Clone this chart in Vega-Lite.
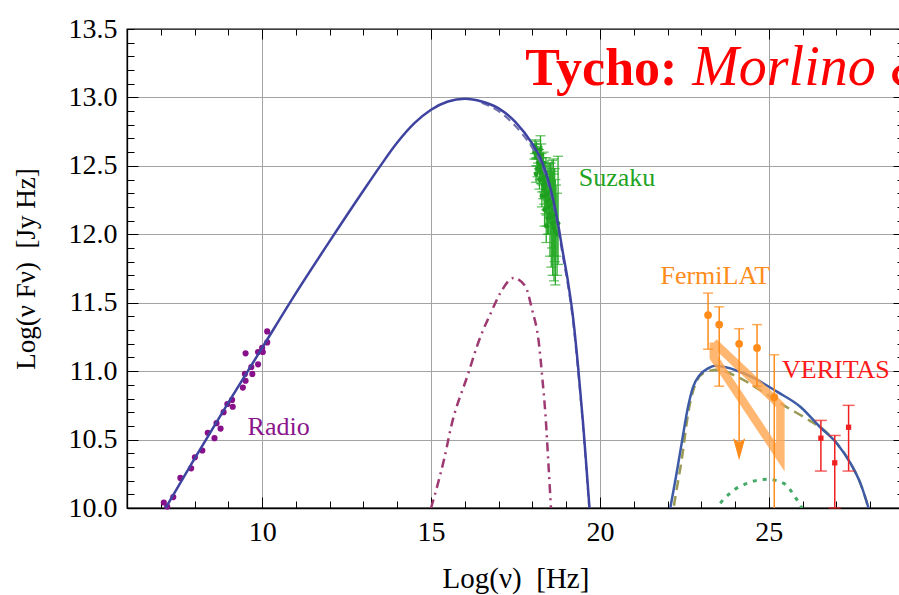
{
  "$schema": "https://vega.github.io/schema/vega-lite/v6.json",
  "width": 777,
  "height": 479,
  "autosize": {"type": "none"},
  "padding": {"left": 127, "top": 29, "right": -5, "bottom": 87},
  "background": "white",
  "config": {
    "view": {"stroke": "black", "strokeWidth": 1.3},
    "font": "Liberation Serif",
    "axis": {"labelFont": "Liberation Serif", "titleFont": "Liberation Serif", "labelColor": "black", "titleColor": "black", "tickColor": "black", "domainColor": "black", "titleFontWeight": "normal", "labelFlush": false, "labelOverlap": false}
  },
  "datasets": {
    "radio": [
      {"x": 10.15, "y": 11.29}, {"x": 10.15, "y": 11.21}, {"x": 10.0, "y": 11.17}, {"x": 9.88, "y": 11.14},
      {"x": 10.02, "y": 11.14}, {"x": 9.51, "y": 11.13}, {"x": 9.88, "y": 11.05}, {"x": 9.68, "y": 11.03},
      {"x": 9.71, "y": 10.98}, {"x": 9.49, "y": 10.98}, {"x": 9.51, "y": 10.93}, {"x": 9.43, "y": 10.88},
      {"x": 9.11, "y": 10.79}, {"x": 8.97, "y": 10.76}, {"x": 9.13, "y": 10.74}, {"x": 8.86, "y": 10.7},
      {"x": 8.65, "y": 10.62}, {"x": 8.77, "y": 10.58}, {"x": 8.39, "y": 10.55}, {"x": 8.59, "y": 10.51},
      {"x": 8.23, "y": 10.42}, {"x": 8.01, "y": 10.37}, {"x": 7.9, "y": 10.29}, {"x": 7.58, "y": 10.22},
      {"x": 7.37, "y": 10.08}, {"x": 7.09, "y": 10.04}, {"x": 7.19, "y": 10.01}
    ],
    "suzaku": [
      {"x": 18.06, "y": 12.6, "lo": 12.55, "hi": 12.66}, {"x": 18.08, "y": 12.64, "lo": 12.59, "hi": 12.69},
      {"x": 18.1, "y": 12.6, "lo": 12.55, "hi": 12.66}, {"x": 18.12, "y": 12.62, "lo": 12.56, "hi": 12.68},
      {"x": 18.14, "y": 12.56, "lo": 12.5, "hi": 12.62}, {"x": 18.16, "y": 12.58, "lo": 12.52, "hi": 12.64},
      {"x": 18.18, "y": 12.52, "lo": 12.45, "hi": 12.59}, {"x": 18.2, "y": 12.55, "lo": 12.48, "hi": 12.62},
      {"x": 18.22, "y": 12.48, "lo": 12.4, "hi": 12.56}, {"x": 18.24, "y": 12.62, "lo": 12.52, "hi": 12.72},
      {"x": 18.25, "y": 12.45, "lo": 12.37, "hi": 12.53}, {"x": 18.27, "y": 12.5, "lo": 12.41, "hi": 12.59},
      {"x": 18.29, "y": 12.4, "lo": 12.31, "hi": 12.49}, {"x": 18.3, "y": 12.46, "lo": 12.36, "hi": 12.56},
      {"x": 18.32, "y": 12.36, "lo": 12.26, "hi": 12.46}, {"x": 18.34, "y": 12.42, "lo": 12.31, "hi": 12.53},
      {"x": 18.35, "y": 12.33, "lo": 12.22, "hi": 12.44}, {"x": 18.37, "y": 12.38, "lo": 12.26, "hi": 12.5},
      {"x": 18.39, "y": 12.28, "lo": 12.15, "hi": 12.41}, {"x": 18.4, "y": 12.44, "lo": 12.32, "hi": 12.56},
      {"x": 18.42, "y": 12.3, "lo": 12.14, "hi": 12.46}, {"x": 18.44, "y": 12.24, "lo": 12.06, "hi": 12.42},
      {"x": 18.46, "y": 12.36, "lo": 12.2, "hi": 12.52}, {"x": 18.48, "y": 12.2, "lo": 12.0, "hi": 12.4},
      {"x": 18.5, "y": 12.3, "lo": 12.08, "hi": 12.52}, {"x": 18.52, "y": 12.15, "lo": 11.84, "hi": 12.46},
      {"x": 18.54, "y": 12.26, "lo": 12.0, "hi": 12.52}, {"x": 18.56, "y": 12.12, "lo": 11.76, "hi": 12.48},
      {"x": 18.58, "y": 12.22, "lo": 11.9, "hi": 12.54}, {"x": 18.6, "y": 12.08, "lo": 11.7, "hi": 12.46},
      {"x": 18.62, "y": 12.18, "lo": 11.84, "hi": 12.55}, {"x": 18.64, "y": 12.05, "lo": 11.66, "hi": 12.44},
      {"x": 18.66, "y": 12.14, "lo": 11.8, "hi": 12.48}, {"x": 18.68, "y": 12.02, "lo": 11.63, "hi": 12.4},
      {"x": 18.7, "y": 12.1, "lo": 11.84, "hi": 12.36}, {"x": 18.73, "y": 12.0, "lo": 11.7, "hi": 12.3},
      {"x": 18.76, "y": 12.08, "lo": 11.78, "hi": 12.57}, {"x": 18.26, "y": 12.58, "lo": 12.5, "hi": 12.66},
      {"x": 18.33, "y": 12.52, "lo": 12.44, "hi": 12.6}, {"x": 18.15, "y": 12.48, "lo": 12.42, "hi": 12.55},
      {"x": 18.21, "y": 12.4, "lo": 12.33, "hi": 12.47}, {"x": 18.45, "y": 12.12, "lo": 12.0, "hi": 12.25},
      {"x": 18.36, "y": 12.18, "lo": 12.06, "hi": 12.3}, {"x": 18.11, "y": 12.44, "lo": 12.38, "hi": 12.5},
      {"x": 18.28, "y": 12.28, "lo": 12.2, "hi": 12.37}, {"x": 18.41, "y": 12.06, "lo": 11.94, "hi": 12.18}
    ],
    "synchrotron": [
      {"x": 7.0, "y": 9.94}, {"x": 8, "y": 10.36}, {"x": 9, "y": 10.77}, {"x": 10, "y": 11.17},
      {"x": 11, "y": 11.57}, {"x": 12, "y": 11.95}, {"x": 13, "y": 12.32}, {"x": 13.5, "y": 12.5},
      {"x": 14, "y": 12.67}, {"x": 14.5, "y": 12.81}, {"x": 15, "y": 12.91}, {"x": 15.5, "y": 12.97},
      {"x": 16, "y": 12.99}, {"x": 16.5, "y": 12.97}, {"x": 17, "y": 12.92}, {"x": 17.5, "y": 12.82},
      {"x": 18, "y": 12.66}, {"x": 18.25, "y": 12.55}, {"x": 18.5, "y": 12.37}, {"x": 18.75, "y": 12.09},
      {"x": 18.9, "y": 11.87}, {"x": 19.05, "y": 11.66}, {"x": 19.2, "y": 11.4}, {"x": 19.35, "y": 11.04},
      {"x": 19.5, "y": 10.62}, {"x": 19.6, "y": 10.3}, {"x": 19.72, "y": 9.9}
    ],
    "synchrotronAlt": [
      {"x": 16.5, "y": 12.96}, {"x": 17, "y": 12.9}, {"x": 17.5, "y": 12.79}, {"x": 18, "y": 12.63},
      {"x": 18.25, "y": 12.52}, {"x": 18.5, "y": 12.34}, {"x": 18.75, "y": 12.06}, {"x": 18.9, "y": 11.84},
      {"x": 19.05, "y": 11.63}, {"x": 19.2, "y": 11.37}, {"x": 19.35, "y": 11.01}, {"x": 19.5, "y": 10.59},
      {"x": 19.6, "y": 10.27}, {"x": 19.72, "y": 9.87}
    ],
    "thermal": [
      {"x": 15.0, "y": 10.0}, {"x": 15.38, "y": 10.35}, {"x": 15.62, "y": 10.62}, {"x": 16.07, "y": 10.96},
      {"x": 16.46, "y": 11.25}, {"x": 16.76, "y": 11.42}, {"x": 17.05, "y": 11.57}, {"x": 17.44, "y": 11.68},
      {"x": 17.79, "y": 11.62}, {"x": 17.99, "y": 11.45}, {"x": 18.19, "y": 11.21}, {"x": 18.29, "y": 10.96},
      {"x": 18.39, "y": 10.67}, {"x": 18.48, "y": 10.3}, {"x": 18.55, "y": 10.0}
    ],
    "gammaTotal": [
      {"x": 22.0, "y": 9.9}, {"x": 22.08, "y": 10.0}, {"x": 22.3, "y": 10.3}, {"x": 22.45, "y": 10.52},
      {"x": 22.6, "y": 10.73}, {"x": 22.75, "y": 10.88}, {"x": 22.95, "y": 10.97}, {"x": 23.2, "y": 11.02},
      {"x": 23.4, "y": 11.04}, {"x": 23.86, "y": 11.02}, {"x": 24.2, "y": 10.99}, {"x": 24.55, "y": 10.95},
      {"x": 25.24, "y": 10.85}, {"x": 25.93, "y": 10.74}, {"x": 26.52, "y": 10.59}, {"x": 27.02, "y": 10.47},
      {"x": 27.41, "y": 10.33}, {"x": 27.71, "y": 10.18}, {"x": 27.95, "y": 10.0}, {"x": 28.02, "y": 9.94}
    ],
    "gammaHadronic": [
      {"x": 22.12, "y": 9.9}, {"x": 22.18, "y": 10.0}, {"x": 22.43, "y": 10.37}, {"x": 22.63, "y": 10.72},
      {"x": 22.87, "y": 10.93}, {"x": 23.1, "y": 10.99}, {"x": 23.47, "y": 11.01}, {"x": 24.06, "y": 10.96},
      {"x": 24.75, "y": 10.86}, {"x": 25.44, "y": 10.75}, {"x": 26.13, "y": 10.65}, {"x": 26.72, "y": 10.55},
      {"x": 27.02, "y": 10.47}, {"x": 27.41, "y": 10.33}, {"x": 27.71, "y": 10.18}, {"x": 27.95, "y": 10.0}
    ],
    "gammaLeptonic": [
      {"x": 23.42, "y": 9.97}, {"x": 23.48, "y": 10.0}, {"x": 23.86, "y": 10.11}, {"x": 24.35, "y": 10.18},
      {"x": 24.95, "y": 10.21}, {"x": 25.44, "y": 10.18}, {"x": 25.78, "y": 10.08}, {"x": 26.02, "y": 9.98}
    ],
    "bowtie": [
      {"k": 0, "x": 23.37, "y": 11.21}, {"k": 1, "x": 25.34, "y": 10.75}, {"k": 2, "x": 25.34, "y": 10.37},
      {"k": 3, "x": 23.37, "y": 11.1}, {"k": 4, "x": 23.37, "y": 11.21}
    ],
    "fermi": [
      {"x": 23.2, "y": 11.41, "lo": 11.16, "hi": 11.57}, {"x": 23.53, "y": 11.34, "lo": 10.89, "hi": 11.47},
      {"x": 24.12, "y": 11.2, "lo": 10.43, "hi": 11.31}, {"x": 24.65, "y": 11.17, "lo": 10.89, "hi": 11.34},
      {"x": 25.16, "y": 10.81, "lo": 9.5, "hi": 11.12}
    ],
    "fermiLimit": [{"x": 24.12, "y": 10.43}],
    "veritas": [
      {"x": 26.54, "y": 10.51, "lo": 10.27, "hi": 10.64}, {"x": 26.95, "y": 10.33, "lo": 10.0, "hi": 10.53},
      {"x": 27.36, "y": 10.59, "lo": 10.27, "hi": 10.75}
    ],
    "labels": [
      {"x": 9.57, "y": 10.53, "label": "Radio"}, {"x": 19.37, "y": 12.35, "label": "Suzaku"},
      {"x": 21.79, "y": 11.64, "label": "FermiLAT"}, {"x": 25.39, "y": 10.95, "label": "VERITAS"}
    ]
  },
  "resolve": {"axis": {"x": "independent", "y": "independent"}},
  "layer": [
    {
      "data": {"name": "radio"},
      "mark": {"type": "point", "shape": "circle", "filled": true, "opacity": 1, "size": 38, "color": "#88108a"},
      "encoding": {
        "x": {"field": "x", "type": "quantitative", "scale": {"domain": [6, 29], "nice": false, "zero": false},
          "axis": {"orient": "bottom", "values": [6, 7, 8, 9, 10, 11, 12, 13, 14, 15, 16, 17, 18, 19, 20, 21, 22, 23, 24, 25, 26, 27, 28, 29],
            "format": "d", "labelExpr": "datum.value % 5 === 0 ? datum.label : ''",
            "grid": true, "gridWidth": 1,
            "gridColor": {"condition": {"test": "datum.value % 5 === 0", "value": "#a3a3a3"}, "value": "transparent"},
            "tickSize": -7, "tickWidth": 1, "domainWidth": 1.3, "labelFontSize": 28, "labelPadding": 17,
            "title": "Log(ν)\u00a0\u00a0[Hz]", "titleFontSize": 29, "titlePadding": 18}},
        "y": {"field": "y", "type": "quantitative", "scale": {"domain": [10, 13.5], "nice": false, "zero": false},
          "axis": {"orient": "left", "values": [10, 10.1, 10.2, 10.3, 10.4, 10.5, 10.6, 10.7, 10.8, 10.9, 11, 11.1, 11.2, 11.3, 11.4, 11.5, 11.6, 11.7, 11.8, 11.9, 12, 12.1, 12.2, 12.3, 12.4, 12.5, 12.6, 12.7, 12.8, 12.9, 13, 13.1, 13.2, 13.3, 13.4, 13.5],
            "format": ".1f", "labelExpr": "abs(datum.value * 2 - round(datum.value * 2)) < 0.001 ? datum.label : ''",
            "grid": true, "gridWidth": 1,
            "gridColor": {"condition": {"test": "abs(datum.value * 2 - round(datum.value * 2)) < 0.001 && datum.value > 10.01 && datum.value < 13.49", "value": "#a3a3a3"}, "value": "transparent"},
            "tickSize": -7, "tickWidth": 1, "domainWidth": 1.3, "labelFontSize": 28, "labelPadding": 17,
            "title": "Log(ν Fν)\u00a0\u00a0[Jy Hz]", "titleFontSize": 27, "titlePadding": 28}}
      }
    },
    {
      "data": {"name": "suzaku"},
      "mark": {"type": "rule", "color": "#2aaa2a", "strokeWidth": 1.3, "clip": true},
      "encoding": {
        "x": {"field": "x", "type": "quantitative", "scale": {"domain": [6, 29], "nice": false, "zero": false},
          "axis": {"orient": "top", "values": [6, 7, 8, 9, 10, 11, 12, 13, 14, 15, 16, 17, 18, 19, 20, 21, 22, 23, 24, 25, 26, 27, 28, 29], "labels": false, "grid": false, "domain": false, "tickSize": -6, "tickWidth": 1, "title": null}},
        "y": {"field": "lo", "type": "quantitative", "scale": {"domain": [10, 13.5], "nice": false, "zero": false},
          "axis": {"orient": "right", "values": [10, 10.1, 10.2, 10.3, 10.4, 10.5, 10.6, 10.7, 10.8, 10.9, 11, 11.1, 11.2, 11.3, 11.4, 11.5, 11.6, 11.7, 11.8, 11.9, 12, 12.1, 12.2, 12.3, 12.4, 12.5, 12.6, 12.7, 12.8, 12.9, 13, 13.1, 13.2, 13.3, 13.4, 13.5], "labels": false, "grid": false, "domain": false, "tickSize": -7, "tickWidth": 1, "title": null}},
        "y2": {"field": "hi"}
      }
    },
    {
      "data": {"name": "suzaku"},
      "mark": {"type": "tick", "orient": "horizontal", "color": "#2aaa2a", "size": 10, "thickness": 1.3},
      "encoding": {
        "x": {"field": "x", "type": "quantitative",
          "axis": {"orient": "bottom", "values": [10, 15, 20, 25], "labels": false, "grid": false, "domain": false, "tickSize": -11, "tickWidth": 1, "title": null}},
        "y": {"field": "hi", "type": "quantitative",
          "axis": {"orient": "left", "values": [10.5, 11, 11.5, 12, 12.5, 13], "labels": false, "grid": false, "domain": false, "tickSize": -11, "tickWidth": 1, "title": null}}
      }
    },
    {
      "data": {"name": "suzaku"},
      "mark": {"type": "tick", "orient": "horizontal", "color": "#2aaa2a", "size": 10, "thickness": 1.3},
      "encoding": {
        "x": {"field": "x", "type": "quantitative",
          "axis": {"orient": "top", "values": [10, 15, 20, 25], "labels": false, "grid": false, "domain": false, "tickSize": -10, "tickWidth": 1, "title": null}},
        "y": {"field": "lo", "type": "quantitative",
          "axis": {"orient": "right", "values": [10.5, 11, 11.5, 12, 12.5, 13], "labels": false, "grid": false, "domain": false, "tickSize": -11, "tickWidth": 1, "title": null}}
      }
    },
    {
      "data": {"name": "suzaku"},
      "mark": {"type": "point", "shape": "circle", "filled": true, "opacity": 1, "size": 22, "color": "#1f9f1f"},
      "encoding": {
        "x": {"field": "x", "type": "quantitative", "axis": null},
        "y": {"field": "y", "type": "quantitative", "axis": null}
      }
    },
    {
      "data": {"name": "thermal"},
      "mark": {"type": "line", "color": "#9e3a72", "strokeWidth": 2.5, "strokeDash": [9, 5, 2, 5], "interpolate": "monotone", "clip": true},
      "encoding": {
        "x": {"field": "x", "type": "quantitative", "axis": null},
        "y": {"field": "y", "type": "quantitative", "axis": null}
      }
    },
    {
      "data": {"name": "synchrotronAlt"},
      "mark": {"type": "line", "color": "#6f6fb0", "strokeWidth": 2, "strokeDash": [8, 5], "interpolate": "monotone", "clip": true},
      "encoding": {
        "x": {"field": "x", "type": "quantitative", "axis": null},
        "y": {"field": "y", "type": "quantitative", "axis": null}
      }
    },
    {
      "data": {"name": "synchrotron"},
      "mark": {"type": "line", "color": "#3f43a0", "strokeWidth": 2.5, "interpolate": "monotone", "clip": true},
      "encoding": {
        "x": {"field": "x", "type": "quantitative", "axis": null},
        "y": {"field": "y", "type": "quantitative", "axis": null}
      }
    },
    {
      "data": {"name": "gammaLeptonic"},
      "mark": {"type": "line", "color": "#44aa66", "strokeWidth": 3, "strokeDash": [4, 6], "interpolate": "monotone", "clip": true},
      "encoding": {
        "x": {"field": "x", "type": "quantitative", "axis": null},
        "y": {"field": "y", "type": "quantitative", "axis": null}
      }
    },
    {
      "data": {"name": "gammaHadronic"},
      "mark": {"type": "line", "color": "#9a9a55", "strokeWidth": 2.5, "strokeDash": [10, 6], "interpolate": "monotone", "clip": true},
      "encoding": {
        "x": {"field": "x", "type": "quantitative", "axis": null},
        "y": {"field": "y", "type": "quantitative", "axis": null}
      }
    },
    {
      "data": {"name": "gammaTotal"},
      "mark": {"type": "line", "color": "#3e5ba6", "strokeWidth": 2.5, "interpolate": "monotone", "clip": true},
      "encoding": {
        "x": {"field": "x", "type": "quantitative", "axis": null},
        "y": {"field": "y", "type": "quantitative", "axis": null}
      }
    },
    {
      "data": {"name": "bowtie"},
      "mark": {"type": "line", "color": "#ffa54f", "opacity": 0.8, "strokeWidth": 8.5, "strokeJoin": "miter", "strokeCap": "butt"},
      "encoding": {
        "x": {"field": "x", "type": "quantitative", "axis": null},
        "y": {"field": "y", "type": "quantitative", "axis": null},
        "order": {"field": "k", "type": "quantitative"}
      }
    },
    {
      "data": {"name": "fermi"},
      "mark": {"type": "rule", "color": "#ff8c1a", "strokeWidth": 1.5, "clip": true},
      "encoding": {
        "x": {"field": "x", "type": "quantitative", "axis": null},
        "y": {"field": "lo", "type": "quantitative", "axis": null},
        "y2": {"field": "hi"}
      }
    },
    {
      "data": {"name": "fermi"},
      "mark": {"type": "tick", "orient": "horizontal", "color": "#ff8c1a", "size": 10, "thickness": 1.5},
      "encoding": {
        "x": {"field": "x", "type": "quantitative", "axis": null},
        "y": {"field": "hi", "type": "quantitative", "axis": null}
      }
    },
    {
      "data": {"name": "fermi"},
      "transform": [{"filter": "datum.lo > 10.5"}],
      "mark": {"type": "tick", "orient": "horizontal", "color": "#ff8c1a", "size": 10, "thickness": 1.5},
      "encoding": {
        "x": {"field": "x", "type": "quantitative", "axis": null},
        "y": {"field": "lo", "type": "quantitative", "axis": null}
      }
    },
    {
      "data": {"name": "fermi"},
      "mark": {"type": "point", "shape": "circle", "filled": true, "opacity": 1, "size": 60, "color": "#ff8c1a"},
      "encoding": {
        "x": {"field": "x", "type": "quantitative", "axis": null},
        "y": {"field": "y", "type": "quantitative", "axis": null}
      }
    },
    {
      "data": {"name": "fermiLimit"},
      "mark": {"type": "point", "shape": "M-0.55,-1L0,-0.6L0.55,-1L0,1Z", "filled": true, "opacity": 1, "size": 484, "color": "#ff8c1a"},
      "encoding": {
        "x": {"field": "x", "type": "quantitative", "axis": null},
        "y": {"field": "y", "type": "quantitative", "axis": null}
      }
    },
    {
      "data": {"name": "veritas"},
      "mark": {"type": "rule", "color": "#f02020", "strokeWidth": 1.5, "clip": true},
      "encoding": {
        "x": {"field": "x", "type": "quantitative", "axis": null},
        "y": {"field": "lo", "type": "quantitative", "axis": null},
        "y2": {"field": "hi"}
      }
    },
    {
      "data": {"name": "veritas"},
      "mark": {"type": "tick", "orient": "horizontal", "color": "#f02020", "size": 12, "thickness": 1.5},
      "encoding": {
        "x": {"field": "x", "type": "quantitative", "axis": null},
        "y": {"field": "hi", "type": "quantitative", "axis": null}
      }
    },
    {
      "data": {"name": "veritas"},
      "mark": {"type": "tick", "orient": "horizontal", "color": "#f02020", "size": 12, "thickness": 1.5},
      "encoding": {
        "x": {"field": "x", "type": "quantitative", "axis": null},
        "y": {"field": "lo", "type": "quantitative", "axis": null}
      }
    },
    {
      "data": {"name": "veritas"},
      "mark": {"type": "point", "shape": "square", "filled": true, "opacity": 1, "size": 28, "color": "#f02020"},
      "encoding": {
        "x": {"field": "x", "type": "quantitative", "axis": null},
        "y": {"field": "y", "type": "quantitative", "axis": null}
      }
    },
    {
      "data": {"name": "labels"},
      "mark": {"type": "text", "align": "left", "baseline": "alphabetic", "fontSize": 26, "font": "Liberation Serif"},
      "encoding": {
        "x": {"field": "x", "type": "quantitative", "axis": null},
        "y": {"field": "y", "type": "quantitative", "axis": null},
        "text": {"field": "label"},
        "color": {"field": "label", "type": "nominal", "legend": null,
          "scale": {"domain": ["Radio", "Suzaku", "FermiLAT", "VERITAS"], "range": ["#8a158c", "#22a322", "#ff8c1a", "#ff1a1a"]}}
      }
    },
    {
      "data": {"values": [{}]},
      "mark": {"type": "text", "text": "Tycho:", "align": "left", "baseline": "alphabetic", "fontSize": 52, "fontWeight": "bold", "font": "Liberation Serif", "color": "#ff0000"},
      "encoding": {
        "x": {"datum": 17.79, "type": "quantitative", "axis": null},
        "y": {"datum": 13.09, "type": "quantitative", "axis": null}
      }
    },
    {
      "data": {"values": [{}]},
      "mark": {"type": "text", "text": "Morlino & Caprioli", "align": "left", "baseline": "alphabetic", "fontSize": 56, "fontStyle": "italic", "font": "Liberation Serif", "color": "#ff0000"},
      "encoding": {
        "x": {"datum": 22.73, "type": "quantitative", "axis": null},
        "y": {"datum": 13.09, "type": "quantitative", "axis": null}
      }
    }
  ]
}
